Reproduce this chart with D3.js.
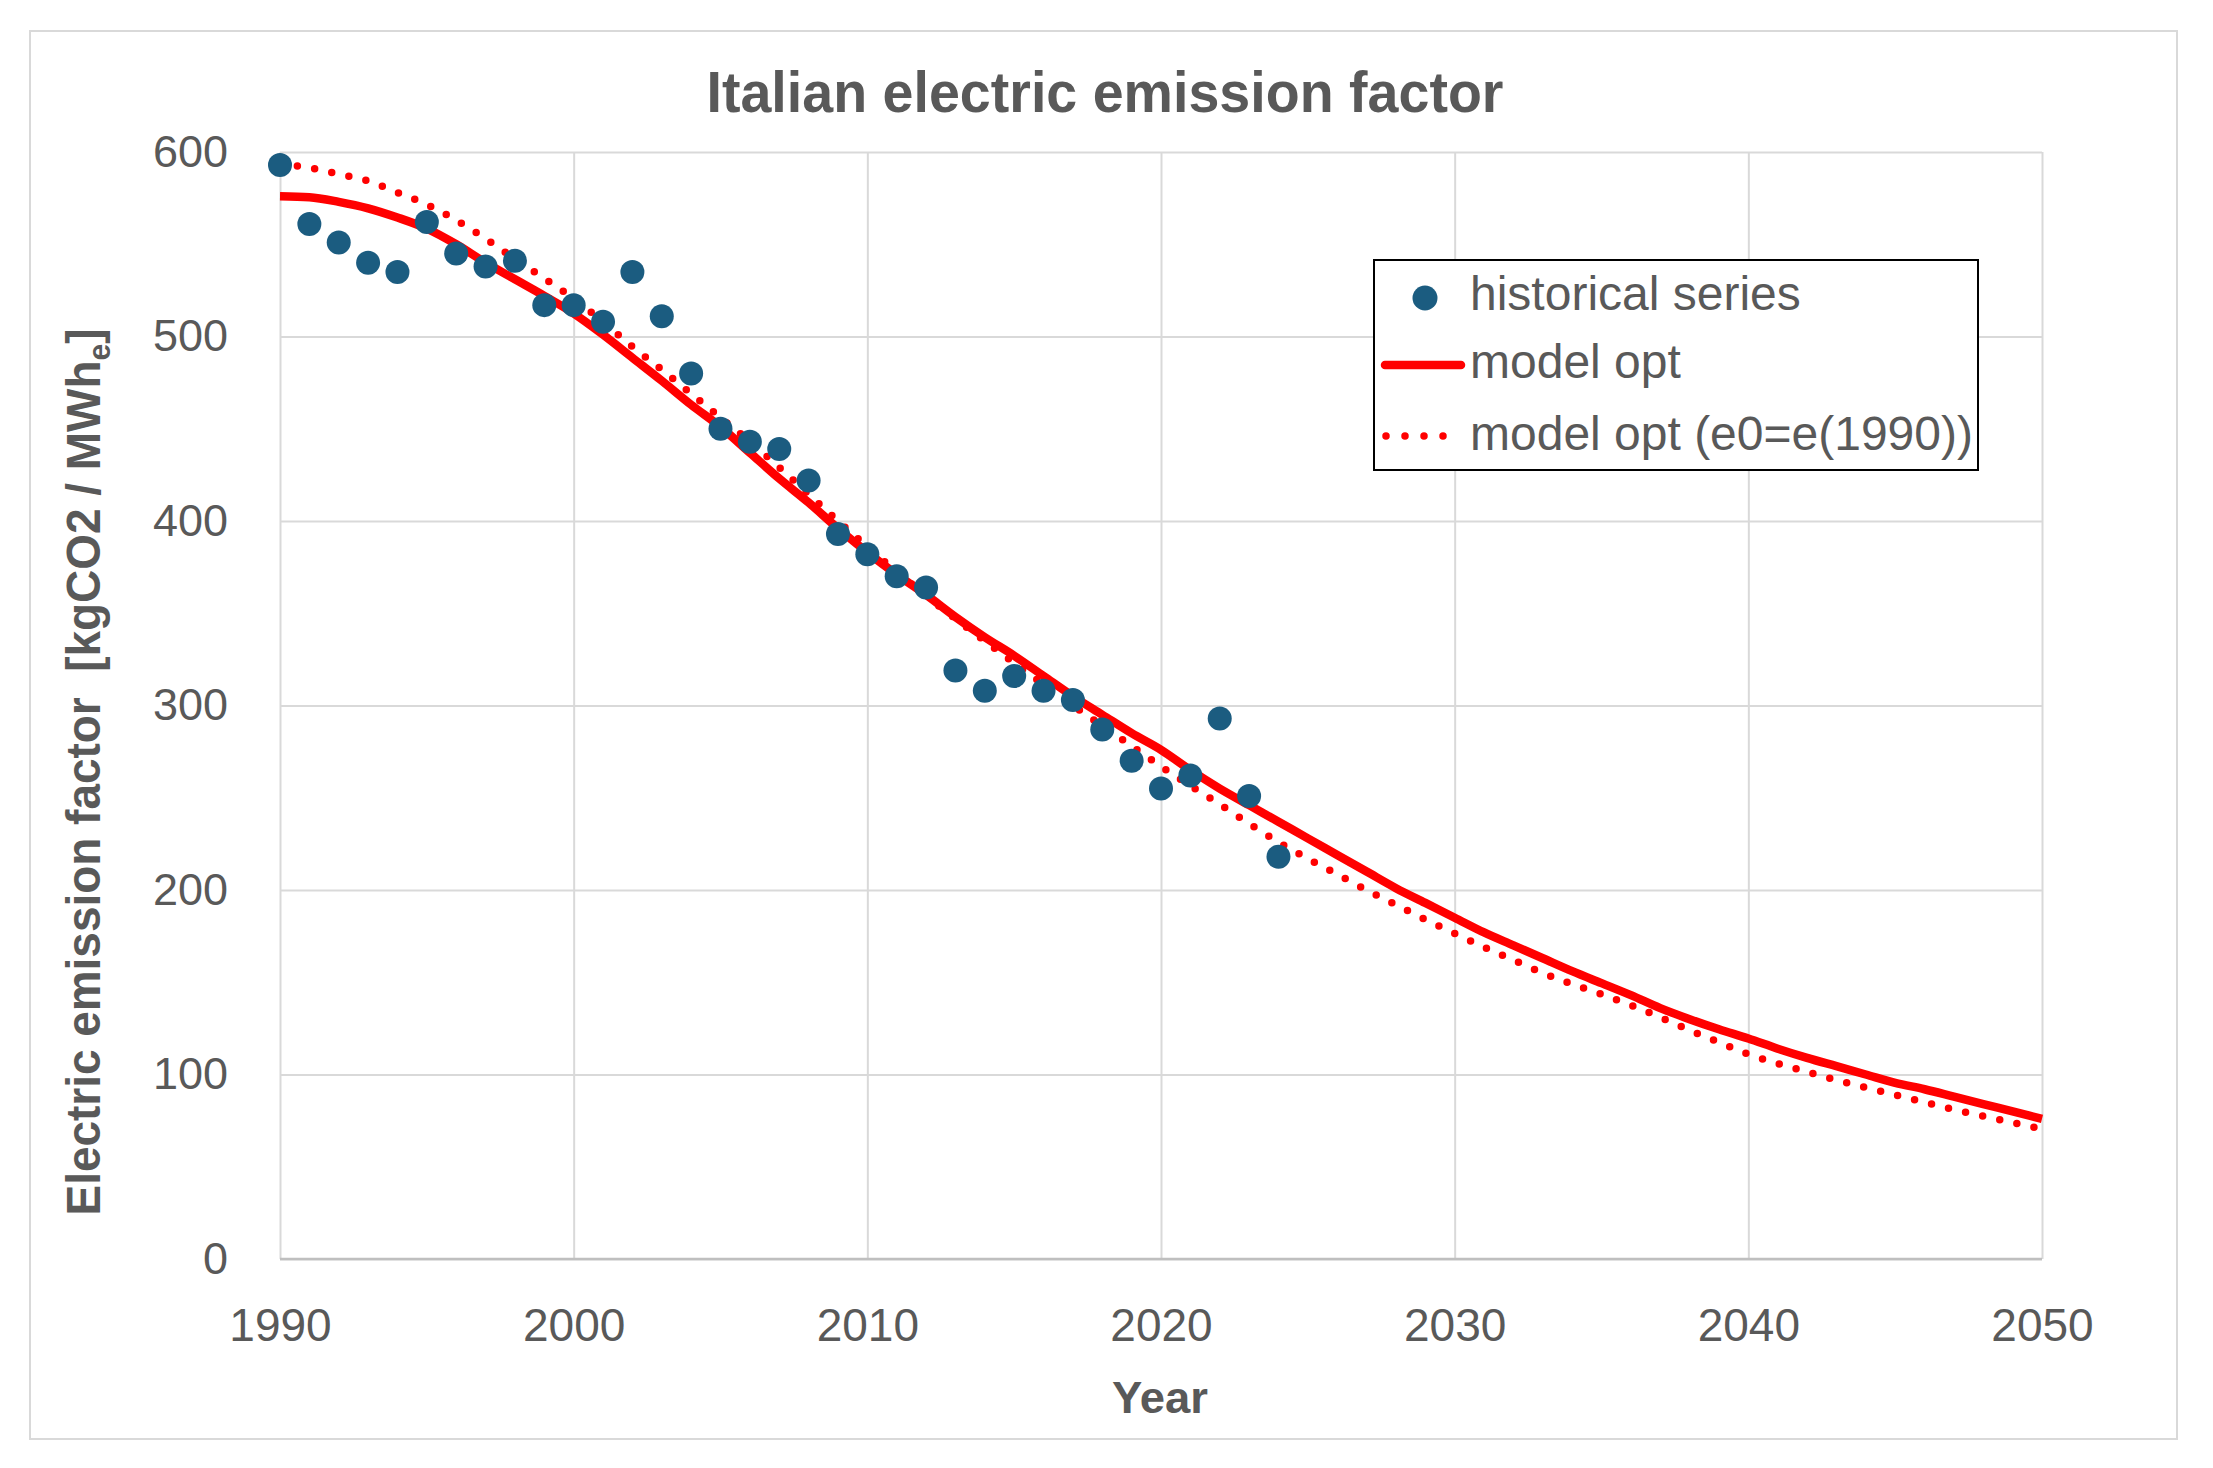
<!DOCTYPE html>
<html>
<head>
<meta charset="utf-8">
<script src="https://cdn.jsdelivr.net/npm/d3@7"></script>
<style>
  html, body { margin: 0; padding: 0; background: #ffffff; }
  svg { display: block; }
</style>
</head>
<body>
<svg id="chart" width="2213" height="1468"></svg>
<script>
// ---------------- DATA ----------------
const histYears = [1990,1991,1992,1993,1994,1995,1996,1997,1998,1999,
                   2000,2001,2002,2003,2004,2005,2006,2007,2008,2009,
                   2010,2011,2012,2013,2014,2015,2016,2017,2018,2019,
                   2020,2021,2022,2023,2024];
const histValues = [593,561,551,540,535,562,545,538,541,517,
                    517,508,535,511,480,450,443,439,422,393,
                    382,370,364,319,308,316,308,303,287,270,
                    255,262,293,251,218];

const modelYears = d3.range(1990, 2051);
const modelOpt = [576,575.5,573,569.5,564.5,558.5,550,540,531,522,
                  512.5,501,488.5,476,463,451,437,423,410,396,
                  383,371,360,348,337,327,316,305,295,285,
                  276,265,255,246,237,228,219,210,201,193,
                  185,177,170,163,156,149.5,143,136,130,124.5,
                  119.5,114,109,104.5,100,95.5,92,88,84,80,
                  76];
const modelOptE0 = [593.5,591.5,588,584.3,578,571.5,563,553,542,531.5,
                    520.5,508,494.5,482,469,456,443,429,414.5,400,
                    386,372.5,359.5,347,335,323,311.5,300,289,278,
                    267,256.5,246.5,236,226,217,208.5,200,192,184,
                    176.5,169,162,155,149,143.5,137.5,131,124,117.5,
                    111,106,101.5,97,93,89,85,81,77.5,74,
                    70.5];

const xTicks = [1990,2000,2010,2020,2030,2040,2050];
const yTicks = [0,100,200,300,400,500,600];

const titleText = "Italian electric emission factor";
const xLabel = "Year";
const yLabelMain = "Electric emission factor  [kgCO2 / MWh";
const yLabelSub = "e";
const yLabelEnd = "]";
const legendLabels = ["historical series", "model opt", "model opt (e0=e(1990))"];

// ---------------- LAYOUT ----------------
const W = 2213, H = 1468;
const plot = {left: 280, right: 2042, top: 152, bottom: 1259};
const grey = "#595959";
const gridCol = "#d9d9d9";
const dotCol = "#1b5c80";
const red = "#ff0000";
const font = "'Liberation Sans', Arial, sans-serif";

const svg = d3.select("#chart");
svg.append("rect").attr("x",0).attr("y",0).attr("width",W).attr("height",H).attr("fill","#fff");
// outer border
svg.append("rect").attr("x",30).attr("y",31).attr("width",2147).attr("height",1408)
   .attr("fill","none").attr("stroke","#d9d9d9").attr("stroke-width",2);

const x = d3.scaleLinear().domain([1990,2050]).range([plot.left, plot.right]);
const y = d3.scaleLinear().domain([0,600]).range([plot.bottom, plot.top]);

// Y axis + horizontal gridlines
const gy = svg.append("g").attr("transform", `translate(${plot.left},0)`)
  .call(d3.axisLeft(y).tickValues(yTicks).tickSize(-(plot.right-plot.left)).tickPadding(52).tickFormat(d3.format("d")));
gy.select(".domain").remove();
gy.selectAll(".tick line").attr("stroke", gridCol).attr("stroke-width", 2);
gy.selectAll(".tick text").attr("fill", grey).attr("font-family", font).attr("font-size", 45);

// X axis + vertical gridlines
const gx = svg.append("g").attr("transform", `translate(0,${plot.bottom})`)
  .call(d3.axisBottom(x).tickValues(xTicks).tickSize(-(plot.bottom-plot.top)).tickPadding(49).tickFormat(d3.format("d")));
gx.select(".domain").remove();
gx.selectAll(".tick line").attr("stroke", gridCol).attr("stroke-width", 2);
gx.selectAll(".tick text").attr("fill", grey).attr("font-family", font).attr("font-size", 46);

// bottom axis line
svg.append("line").attr("x1", plot.left).attr("x2", plot.right)
  .attr("y1", y(0)).attr("y2", y(0)).attr("stroke", "#bfbfbf").attr("stroke-width", 2.5);

// Lines
const line = d3.line().x((d,i)=>x(modelYears[i])).y(d=>y(d)).curve(d3.curveMonotoneX);
svg.append("path").datum(modelOpt).attr("d", line)
  .attr("fill","none").attr("stroke", red).attr("stroke-width", 8.5).attr("stroke-linejoin","round");
svg.append("path").datum(modelOptE0).attr("d", line)
  .attr("fill","none").attr("stroke", red).attr("stroke-width", 7.5)
  .attr("stroke-linecap","round").attr("stroke-dasharray","0,17.5");

// Points
svg.append("g").selectAll("circle").data(histValues).join("circle")
  .attr("cx", (d,i)=>x(histYears[i])).attr("cy", d=>y(d)).attr("r", 12)
  .attr("fill", dotCol);

// Title
svg.append("text").attr("x", 1105).attr("y", 112).attr("text-anchor","middle")
  .attr("font-family", font).attr("font-weight","bold").attr("font-size", 58)
  .attr("fill", grey).attr("textLength", 797).attr("lengthAdjust","spacingAndGlyphs")
  .text(titleText);

// X label
svg.append("text").attr("x", 1160).attr("y", 1413).attr("text-anchor","middle")
  .attr("font-family", font).attr("font-weight","bold").attr("font-size", 44)
  .attr("fill", grey).attr("textLength", 96).attr("lengthAdjust","spacingAndGlyphs")
  .text(xLabel);

// Y label (rotated)
const yl = svg.append("text")
  .attr("transform", "translate(100,772) rotate(-90)")
  .attr("text-anchor","middle")
  .style("white-space","pre")
  .attr("font-family", font).attr("font-weight","bold").attr("font-size", 49)
  .attr("fill", grey).attr("textLength", 887).attr("lengthAdjust","spacingAndGlyphs");
yl.append("tspan").style("white-space","pre").text(yLabelMain);
yl.append("tspan").attr("font-size", 32).attr("dy", 10).text(yLabelSub);
yl.append("tspan").attr("dy", -10).text(yLabelEnd);

// Legend
const lg = svg.append("g");
lg.append("rect").attr("x",1374).attr("y",260).attr("width",604).attr("height",210)
  .attr("fill","#fff").attr("stroke","#000").attr("stroke-width",2);
lg.append("circle").attr("cx",1425).attr("cy",298).attr("r",12.5).attr("fill",dotCol);
lg.append("line").attr("x1",1385).attr("x2",1461).attr("y1",365).attr("y2",365)
  .attr("stroke",red).attr("stroke-width",8.5).attr("stroke-linecap","round");
lg.append("line").attr("x1",1386).attr("x2",1462).attr("y1",436).attr("y2",436)
  .attr("stroke",red).attr("stroke-width",7.5).attr("stroke-linecap","round").attr("stroke-dasharray","0,19");
const legBase = [310, 378, 450];
lg.selectAll("text.leg").data(legendLabels).join("text").attr("class","leg")
  .attr("x",1470).attr("y",(d,i)=>legBase[i])
  .attr("font-family", font).attr("font-size", 48).attr("fill", grey)
  .text(d=>d);
</script>
</body>
</html>
